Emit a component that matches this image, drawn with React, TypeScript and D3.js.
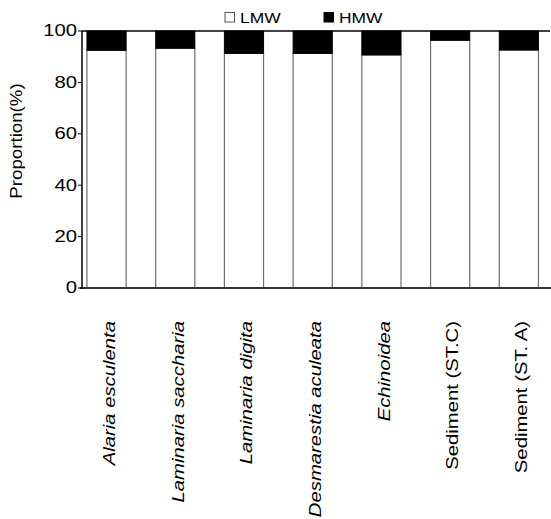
import React from 'react';
import * as d3 from 'd3';

// values
const categories = [
  'Alaria esculenta',
  'Laminaria saccharia',
  'Laminaria digita',
  'Desmarestia aculeata',
  'Echinoidea',
  'Sediment (ST.C)',
  'Sediment (ST. A)',
];
const italicLabels = [true, true, true, true, true, false, false];
const lmwValues = [92.5, 93.3, 91.3, 91.3, 90.7, 96.4, 92.6];
const hmwValues = [7.5, 6.7, 8.7, 8.7, 9.3, 3.6, 7.4];
const yTicks = [0, 20, 40, 60, 80, 100];
const seriesNames = ['LMW', 'HMW'];

const width = 551;
const height = 519;
const margin = { top: 31, right: 1, bottom: 231, left: 82 };
const font = '"Liberation Sans", Arial, Helvetica, sans-serif';
const stretch = 1.23; // text in the original is drawn a bit wide

const App: React.FC = () => {
  const x = d3.scaleBand<string>()
    .domain(categories)
    .range([margin.left, width - margin.right])
    .paddingInner(0.43)
    .paddingOuter(0.12)
    .align(0.3);

  const y = d3.scaleLinear()
    .domain([0, 100])
    .range([height - margin.bottom, margin.top]);

  const y0 = y(0);
  const y100 = y(100);

  return (
    <svg
      width={width}
      height={height}
      viewBox={`0 0 ${width} ${height}`}
      style={{ position: 'absolute', left: 0, top: 0, background: '#fff' }}
      fontFamily={font}
    >
      {/* bars */}
      {categories.map((c, i) => {
        const bx = x(c)!;
        const bw = x.bandwidth();
        const lmwTop = y(lmwValues[i]);
        const hmwTop = y(lmwValues[i] + hmwValues[i]);
        return (
          <g key={c}>
            <rect x={bx} y={lmwTop} width={bw} height={y0 - lmwTop}
              fill="#fff" stroke="#6e6e6e" strokeWidth={1.2} />
            <rect x={bx} y={hmwTop} width={bw} height={lmwTop - hmwTop}
              fill="#000" stroke="#000" strokeWidth={1} />
          </g>
        );
      })}

      {/* top frame line at 100 */}
      <line x1={margin.left} x2={width - margin.right} y1={y100} y2={y100}
        stroke="#000" strokeWidth={1.6} />

      {/* x axis */}
      <line x1={margin.left - 2} x2={width} y1={y0} y2={y0}
        stroke="#333" strokeWidth={1.8} />

      {/* y axis */}
      <line x1={margin.left} x2={margin.left} y1={y100} y2={y0 + 1}
        stroke="#000" strokeWidth={1.5} />
      {yTicks.map(t => (
        <g key={t}>
          <line x1={margin.left - 4} x2={margin.left} y1={y(t)} y2={y(t)}
            stroke="#000" strokeWidth={1} />
          <text
            transform={`translate(${margin.left - 5},${y(t) + 1}) scale(${stretch},1)`}
            textAnchor="end" dominantBaseline="middle" fontSize={16.5} fill="#000"
          >
            {t}
          </text>
        </g>
      ))}

      {/* y axis title */}
      <text
        transform={`translate(17.5,141) rotate(-90) scale(1.17,1)`}
        textAnchor="middle" dominantBaseline="middle" fontSize={16} fill="#000"
      >
        Proportion(%)
      </text>

      {/* category labels */}
      {categories.map((c, i) => (
        <text
          key={c}
          transform={`translate(${x(c)! + x.bandwidth() / 2 + 2.5},321) rotate(-90) scale(${stretch},1)`}
          textAnchor="end" dy="0.35em" fontSize={16.5}
          fontStyle={italicLabels[i] ? 'italic' : 'normal'} fill="#000"
        >
          {c}
        </text>
      ))}

      {/* legend */}
      {seriesNames.map((s, i) => {
        const lx = 225 + i * 99;
        return (
          <g key={s}>
            <rect x={lx} y={12.5} width={9.5} height={9.5}
              fill={i === 0 ? '#fff' : '#000'} stroke={i === 0 ? '#555' : '#000'} strokeWidth={1} />
            <text transform={`translate(${lx + 15},22.5) scale(1.2,1)`}
              fontSize={14.5} fill="#000">
              {s}
            </text>
          </g>
        );
      })}
    </svg>
  );
};

export default App;
